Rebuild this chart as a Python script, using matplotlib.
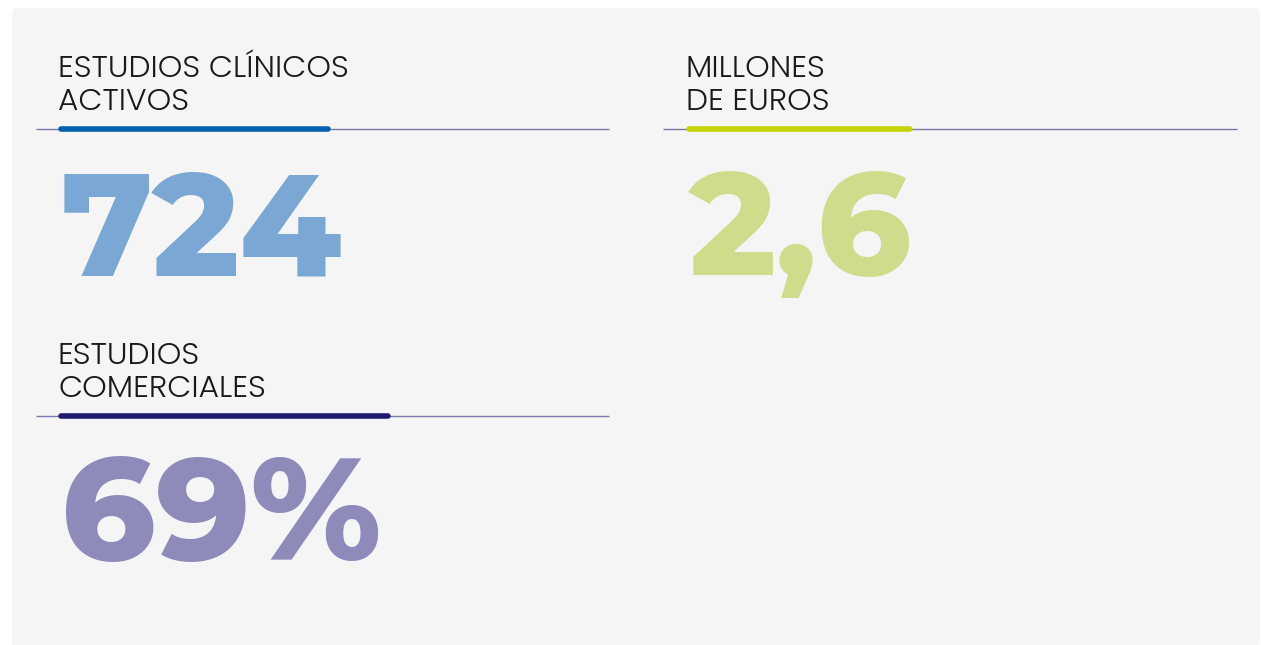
import matplotlib
matplotlib.use("Agg")
import matplotlib.pyplot as plt
from matplotlib.patches import FancyBboxPatch
from matplotlib import font_manager

W, H = 1261, 645

# data
labels = [["ESTUDIOS CLÍNICOS", "ACTIVOS"],
          ["MILLONES", "DE EUROS"],
          ["ESTUDIOS", "COMERCIALES"]]
values = ["724", "2,6", "69%"]
bar_colors = ["#0060b0", "#c3d400", "#1e1a6e"]
num_colors = ["#7ba7d4", "#d0db8c", "#8e8aba"]

# layout (pixel coords): x of text, y of rule, rule span, accent bar end
cells = [
    dict(x=59, rule_y=129, rule=(36, 609), bar_end=330, num_y=275),
    dict(x=687, rule_y=129, rule=(663, 1237), bar_end=912, num_y=275),
    dict(x=59, rule_y=416, rule=(36, 609), bar_end=390, num_y=560),
]

names = {f.name for f in font_manager.fontManager.ttflist}
num_font = "Montserrat Alternates" if "Montserrat Alternates" in names else "Poppins"
lab_font = "Poppins" if "Poppins" in names else "Lato"

fig = plt.figure(figsize=(W / 100, H / 100), dpi=100)
fig.patch.set_facecolor("white")
ax = fig.add_axes([0, 0, 1, 1])
ax.set_xlim(0, W)
ax.set_ylim(H, 0)
ax.axis("off")

ax.add_patch(FancyBboxPatch((12, 8), 1248, 640, boxstyle="round,pad=0,rounding_size=6",
                            fc="#f5f5f5", ec="none"))

for lab, val, bc, nc, c in zip(labels, values, bar_colors, num_colors, cells):
    y0 = c["rule_y"] - 52
    for i, line in enumerate(lab):
        ax.text(c["x"] - 1, y0 + i * 33, line, fontsize=22.5, family=lab_font,
                fontweight=300, color="#1a1a1a", va="baseline", ha="left")
    ax.plot(c["rule"], [c["rule_y"]] * 2, color="#7a78b0", lw=1.0,
            solid_capstyle="butt")
    ax.plot([c["x"] + 2, c["bar_end"] - 2], [c["rule_y"]] * 2, color=bc, lw=4,
            solid_capstyle="round")
    ax.text(c["x"] + 2, c["num_y"], val, fontsize=105, family=num_font,
            fontweight=800, color=nc, va="baseline", ha="left")

fig.savefig("out.png", dpi=100, facecolor="white")
